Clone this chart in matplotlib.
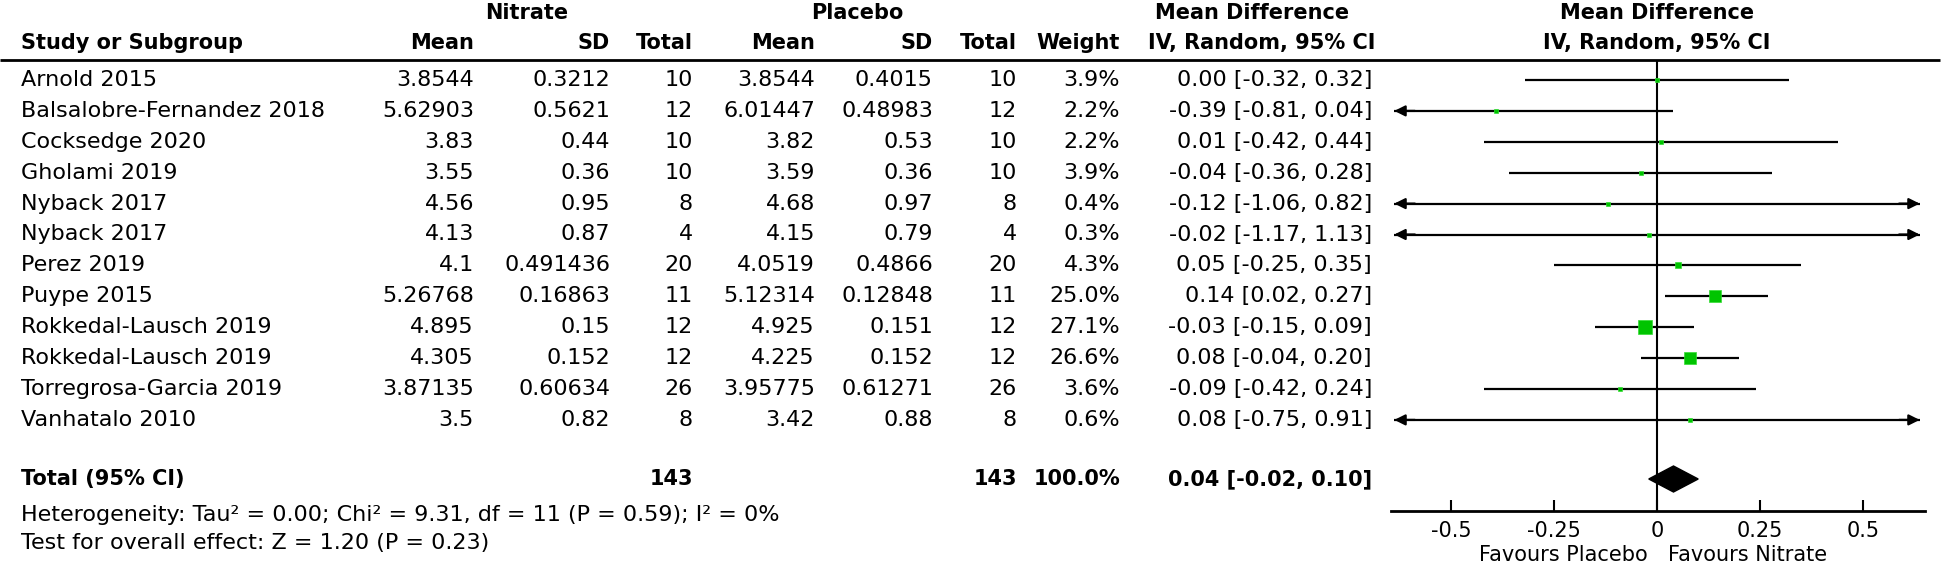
import numpy as np
import matplotlib
matplotlib.use("Agg")
import matplotlib.pyplot as plt
from matplotlib.patches import Polygon

# ---------- data ----------
studies = ["Arnold 2015", "Balsalobre-Fernandez 2018", "Cocksedge 2020", "Gholami 2019",
           "Nyback 2017", "Nyback 2017", "Perez 2019", "Puype 2015",
           "Rokkedal-Lausch 2019", "Rokkedal-Lausch 2019", "Torregrosa-Garcia 2019",
           "Vanhatalo 2010"]
nit_mean = ["3.8544", "5.62903", "3.83", "3.55", "4.56", "4.13", "4.1", "5.26768",
            "4.895", "4.305", "3.87135", "3.5"]
nit_sd = ["0.3212", "0.5621", "0.44", "0.36", "0.95", "0.87", "0.491436", "0.16863",
          "0.15", "0.152", "0.60634", "0.82"]
nit_n = [10, 12, 10, 10, 8, 4, 20, 11, 12, 12, 26, 8]
pla_mean = ["3.8544", "6.01447", "3.82", "3.59", "4.68", "4.15", "4.0519", "5.12314",
            "4.925", "4.225", "3.95775", "3.42"]
pla_sd = ["0.4015", "0.48983", "0.53", "0.36", "0.97", "0.79", "0.4866", "0.12848",
          "0.151", "0.152", "0.61271", "0.88"]
pla_n = [10, 12, 10, 10, 8, 4, 20, 11, 12, 12, 26, 8]
weight = [3.9, 2.2, 2.2, 3.9, 0.4, 0.3, 4.3, 25.0, 27.1, 26.6, 3.6, 0.6]
md = [0.00, -0.39, 0.01, -0.04, -0.12, -0.02, 0.05, 0.14, -0.03, 0.08, -0.09, 0.08]
ci_lo = [-0.32, -0.81, -0.42, -0.36, -1.06, -1.17, -0.25, 0.02, -0.15, -0.04, -0.42, -0.75]
ci_hi = [0.32, 0.04, 0.44, 0.28, 0.82, 1.13, 0.35, 0.27, 0.09, 0.20, 0.24, 0.91]

total_md, total_lo, total_hi = 0.04, -0.02, 0.10
total_n_nit, total_n_pla = 143, 143
het_text = "Heterogeneity: Tau² = 0.00; Chi² = 9.31, df = 11 (P = 0.59); I² = 0%"
test_text = "Test for overall effect: Z = 1.20 (P = 0.23)"
xticks = [-0.5, -0.25, 0, 0.25, 0.5]
xtick_labels = ["-0.5", "-0.25", "0", "0.25", "0.5"]

# ---------- layout (pixels) ----------
W, H = 1946, 568
FS = 16      # body text
FSB = 15     # bold headers
GREEN = "#00c400"
row_y0, row_dy = 80, 30.9
y_group, y_head, y_line = 13, 43, 60
y_total, y_het, y_test = 479, 515, 543
y_axis = 511

fig = plt.figure(figsize=(W / 100, H / 100), dpi=100)
fig.patch.set_facecolor("white")

# table axes in pixel coordinates
ax_t = fig.add_axes([0, 0, 1, 1])
ax_t.set_xlim(0, W)
ax_t.set_ylim(H, 0)
ax_t.axis("off")

def txt(x, y, s, ha="right", bold=False, size=None):
    if size is None:
        size = FSB if bold else FS
    ax_t.text(x, y, s, ha=ha, va="center", fontsize=size,
              fontweight="bold" if bold else "normal", color="black")

# column right edges
x_study = 21
x_nm, x_nsd, x_nn = 474, 610, 693
x_pm, x_psd, x_pn = 815, 933, 1017
x_w, x_ci = 1120, 1372

txt(527, y_group, "Nitrate", ha="center", bold=True)
txt(857, y_group, "Placebo", ha="center", bold=True)
txt(1252, y_group, "Mean Difference", ha="center", bold=True)
txt(1657, y_group, "Mean Difference", ha="center", bold=True)

txt(x_study, y_head, "Study or Subgroup", ha="left", bold=True)
for x, s in [(x_nm, "Mean"), (x_nsd, "SD"), (x_nn, "Total"),
             (x_pm, "Mean"), (x_psd, "SD"), (x_pn, "Total"), (x_w, "Weight")]:
    txt(x, y_head, s, bold=True)
txt(1262, y_head, "IV, Random, 95% CI", ha="center", bold=True)
txt(1657, y_head, "IV, Random, 95% CI", ha="center", bold=True)

ax_t.plot([0, 1940], [y_line, y_line], color="black", lw=2, solid_capstyle="butt")

rows_y = [row_y0 + i * row_dy for i in range(len(studies))]
for i, y in enumerate(rows_y):
    txt(x_study, y, studies[i], ha="left")
    txt(x_nm, y, nit_mean[i])
    txt(x_nsd, y, nit_sd[i])
    txt(x_nn, y, str(nit_n[i]))
    txt(x_pm, y, pla_mean[i])
    txt(x_psd, y, pla_sd[i])
    txt(x_pn, y, str(pla_n[i]))
    txt(x_w, y, f"{weight[i]:.1f}%")
    txt(x_ci, y, f"{md[i]:.2f} [{ci_lo[i]:.2f}, {ci_hi[i]:.2f}]")

txt(x_study, y_total, "Total (95% CI)", ha="left", bold=True)
txt(x_nn, y_total, str(total_n_nit), bold=True)
txt(x_pn, y_total, str(total_n_pla), bold=True)
txt(x_w, y_total, "100.0%", bold=True)
txt(x_ci, y_total, f"{total_md:.2f} [{total_lo:.2f}, {total_hi:.2f}]", bold=True)
txt(x_study, y_het, het_text, ha="left")
txt(x_study, y_test, test_text, ha="left")

# ---------- forest plot ----------
x0_px, zero_px, px_per_unit = 1391, 1657, 412
xmin = (x0_px - zero_px) / px_per_unit
xmax = -xmin + 0.005
ax_f = fig.add_axes([x0_px / W, (H - y_axis) / H, (xmax - xmin) * px_per_unit / W,
                     (y_axis - y_line) / H])
ax_f.set_xlim(xmin, xmax)
ax_f.set_ylim(y_axis, y_line)
ax_f.patch.set_alpha(0)
for side in ["top", "right", "left"]:
    ax_f.spines[side].set_visible(False)
ax_f.spines["bottom"].set_linewidth(2)
ax_f.set_yticks([])
ax_f.set_xticks(xticks)
ax_f.set_xticklabels(xtick_labels, fontsize=15)
ax_f.tick_params(axis="x", direction="in", length=8, width=1.5, pad=7)

ax_f.axvline(0, color="black", lw=1.5, zorder=1)

tip = xmin + 0.008
for i, y in enumerate(rows_y):
    lo, hi = max(ci_lo[i], tip), min(ci_hi[i], -tip)
    ax_f.plot([lo, hi], [y, y], color="black", lw=1.6, zorder=2, solid_capstyle="butt")
    if ci_lo[i] < tip:
        ax_f.annotate("", xy=(tip, y), xytext=(tip + 0.05, y),
                      arrowprops=dict(arrowstyle="-|>", color="black", lw=1.6,
                                      mutation_scale=16, shrinkA=0, shrinkB=0))
    if ci_hi[i] > -tip:
        ax_f.annotate("", xy=(-tip, y), xytext=(-tip - 0.05, y),
                      arrowprops=dict(arrowstyle="-|>", color="black", lw=1.6,
                                      mutation_scale=16, shrinkA=0, shrinkB=0))
    side = max(3.5, 12.5 * np.sqrt(weight[i] / 25.0))
    ax_f.plot(md[i], y, marker="s", markersize=side * 0.72, color=GREEN,
              markeredgecolor="#33dd33", markeredgewidth=0.5, zorder=3, linestyle="none")

ax_f.add_patch(Polygon([(total_lo, y_total), (total_md, y_total - 13),
                        (total_hi, y_total), (total_md, y_total + 13)],
                       closed=True, facecolor="black", edgecolor="black", zorder=3))

txt(1648, 555, "Favours Placebo", ha="right", size=15)
txt(1668, 555, "Favours Nitrate", ha="left", size=15)

fig.savefig("out.png", dpi=100)
